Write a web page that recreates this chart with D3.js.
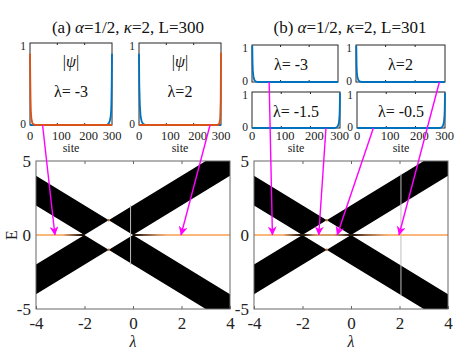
<!DOCTYPE html>
<html>
<head>
<meta charset="utf-8">
<script src="https://cdn.jsdelivr.net/npm/d3@7/dist/d3.min.js"></script>
<style>
  body { margin: 0; background: #fff; }
</style>
</head>
<body>
<svg id="chart" width="471" height="353"></svg>
<script>
// ---- data ----
const lambdaTicks = [-4, -2, 0, 2, 4];
const energyTicks = [-5, 0, 5];
const siteTicks = [0, 100, 200, 300];

// the two crossing bulk bands (parallelograms in lambda-E plane)
const bandDown = [[-4, 4], [4, -4], [4, -6], [-4, 2]];
const bandUp = [[-4, -4], [4, 4], [4, 6], [-4, -2]];
const touchPoints = [[-1, 1], [-1, -1]];

// E = 0 zero modes: [lambda, darkness 0..1]
const zeroStopsA = [[-4, 0], [-2.9, 0], [-2.5, 0.5], [-2.15, 0.95], [-2, 1], [0, 1], [0.12, 0.95], [0.55, 0.55], [1.0, 0.2], [1.4, 0], [4, 0]];
const zeroStopsB = [[-4, 0], [-2.8, 0], [-2.45, 0.5], [-2.1, 0.95], [-1.9, 0.9], [-1.6, 0.35], [-1.4, 0.15], [-0.7, 0.15], [-0.35, 0.55], [-0.05, 0.95], [0.15, 0.9], [0.6, 0.5], [1.3, 0.1], [1.6, 0], [4, 0]];
const zeroSegmentsA = [[-4, -2], [0, 4]];
const zeroSegmentsB = [[-4, 4]];
const gapLineA = [[-0.1, -2], [-0.1, 2]];
const gapLineB = [[2.06, -4.1], [2.06, 4.15]];

// |psi| profiles in the insets: [site, |psi|]
const psiA1Blue = [[0, 0], [282, 0], [288, 0.02], [292, 0.05], [295, 0.1], [297, 0.18], [298, 0.3], [299, 0.5], [300, 0.87]];
const psiA1Orange = [[0, 0.87], [1, 0.55], [2, 0.32], [3, 0.18], [5, 0.08], [8, 0.03], [12, 0.01], [20, 0], [300, 0]];
const psiA2Blue = [[0, 0.87], [1, 0.5], [3, 0.25], [6, 0.1], [10, 0.04], [16, 0.01], [25, 0], [300, 0]];
const psiA2Orange = [[0, 0], [288, 0], [294, 0.02], [297, 0.08], [299, 0.3], [300, 0.88]];
const psiB1 = [[1, 0.98], [2, 0.5], [3, 0.3], [5, 0.15], [8, 0.06], [12, 0.02], [20, 0], [301, 0]];
const psiB2 = [[1, 0.98], [2, 0.45], [3, 0.25], [5, 0.12], [8, 0.05], [12, 0.015], [20, 0], [301, 0]];
const psiB3 = [[1, 0], [282, 0], [290, 0.02], [294, 0.06], [297, 0.14], [299, 0.28], [300, 0.5], [301, 0.98]];
const psiB4 = [[1, 0], [282, 0], [290, 0.02], [294, 0.06], [297, 0.15], [299, 0.3], [300, 0.5], [301, 0.98]];

// arrows: inset bottom (site) -> zero mode at lambda
const arrowsA = [{ inset: 'a1', site: 46, lambda: -3.22 }, { inset: 'a2', site: 260, lambda: 1.98 }];
const arrowsB = [
  { inset: 'b1', site: 60, lambda: -3.24 },
  { inset: 'b3', site: 253, lambda: -1.33 },
  { inset: 'b4', site: 56, lambda: -0.57 },
  { inset: 'b2', site: 282, lambda: 1.98 }
];

// ---- layout ----
const blue = '#0072bd';
const orange = '#d95319';
const zeroLight = '#fbb67c';
const zeroDark = '#1a0c04';
const magenta = '#ff00ff';
const serif = "'Liberation Serif', serif";

const svg = d3.select('#chart');
const defs = svg.append('defs');

defs.append('marker')
  .attr('id', 'arrowhead')
  .attr('viewBox', '0 0 10 10')
  .attr('refX', 9.5)
  .attr('refY', 5)
  .attr('markerWidth', 10)
  .attr('markerHeight', 9)
  .attr('markerUnits', 'userSpaceOnUse')
  .attr('orient', 'auto')
  .append('path')
  .attr('d', 'M0,0 L10,5 L0,10 L3,5 Z')
  .attr('fill', magenta);

const insetBoxes = {
  a1: { x: 30, y: 43, w: 82, h: 82, L: 300 },
  a2: { x: 139, y: 43, w: 82, h: 82, L: 300 },
  b1: { x: 252, y: 45, w: 86, h: 37, L: 301 },
  b2: { x: 356, y: 45, w: 89, h: 37, L: 301 },
  b3: { x: 252, y: 92, w: 88, h: 36, L: 301 },
  b4: { x: 357, y: 92, w: 88, h: 36, L: 301 }
};

function siteScale(box) {
  return d3.scaleLinear().domain([0, box.L]).range([box.x, box.x + box.w]);
}

const minus = d => d < 0 ? '-' + Math.abs(d) : d;

function drawMain(id, left, stops, segments, gapLine) {
  const x = d3.scaleLinear().domain([-4, 4]).range([left, left + 194]);
  const y = d3.scaleLinear().domain([-5, 5]).range([309, 161]);

  defs.append('clipPath').attr('id', 'clip-' + id)
    .append('rect')
    .attr('x', x(-4)).attr('y', y(5))
    .attr('width', x(4) - x(-4)).attr('height', y(-5) - y(5));

  const g = svg.append('g');
  const plot = g.append('g').attr('clip-path', 'url(#clip-' + id + ')');

  const poly = d3.line().x(d => x(d[0])).y(d => y(d[1]));
  plot.append('path')
    .attr('d', poly(bandDown) + 'Z' + poly(bandUp) + 'Z')
    .attr('fill', '#000')
    .attr('fill-rule', 'evenodd');

  plot.append('path')
    .attr('d', poly(gapLine))
    .attr('stroke', '#bdbdbd')
    .attr('stroke-width', 1);

  const grad = defs.append('linearGradient')
    .attr('id', 'zero-' + id)
    .attr('gradientUnits', 'userSpaceOnUse')
    .attr('x1', x(-4)).attr('x2', x(4))
    .attr('y1', 0).attr('y2', 0);
  const mix = d3.interpolateRgb(zeroLight, zeroDark);
  grad.selectAll('stop')
    .data(stops)
    .enter()
    .append('stop')
    .attr('offset', d => (x(d[0]) - x(-4)) / (x(4) - x(-4)))
    .attr('stop-color', d => mix(d[1]));

  plot.selectAll('.zero')
    .data(segments)
    .enter()
    .append('line')
    .attr('x1', d => x(d[0])).attr('x2', d => x(d[1]))
    .attr('y1', y(0)).attr('y2', y(0))
    .attr('stroke', 'url(#zero-' + id + ')')
    .attr('stroke-width', 2);

  plot.selectAll('.touch')
    .data(touchPoints)
    .enter()
    .append('circle')
    .attr('cx', d => x(d[0])).attr('cy', d => y(d[1]))
    .attr('r', 1.2)
    .attr('fill', '#b8703a');

  // frame
  g.append('rect')
    .attr('x', x(-4)).attr('y', y(5))
    .attr('width', x(4) - x(-4)).attr('height', y(-5) - y(5))
    .attr('fill', 'none')
    .attr('stroke', '#666')
    .attr('stroke-width', 1);

  g.append('g')
    .attr('transform', 'translate(0,' + y(-5) + ')')
    .call(d3.axisBottom(x).tickValues(lambdaTicks).tickSize(-3).tickPadding(8).tickFormat(minus))
    .call(a => a.select('.domain').remove())
    .call(a => a.selectAll('.tick line').attr('stroke', '#666'))
    .call(a => a.selectAll('.tick text').attr('fill', '#222')
      .style('font-family', serif).style('font-size', '17px'));

  g.append('g')
    .attr('transform', 'translate(0,' + y(5) + ')')
    .call(d3.axisTop(x).tickValues(lambdaTicks.slice(1, -1)).tickSize(-3).tickFormat(''))
    .call(a => a.select('.domain').remove())
    .call(a => a.selectAll('.tick line').attr('stroke', '#666'));

  g.append('g')
    .attr('transform', 'translate(' + x(-4) + ',0)')
    .call(d3.axisLeft(y).tickValues(energyTicks).tickSize(0).tickPadding(5).tickFormat(minus))
    .call(a => a.select('.domain').remove())
    .call(a => a.selectAll('.tick text').attr('fill', '#222')
      .style('font-family', serif).style('font-size', '17px'));

  g.append('text')
    .attr('x', (x(-4) + x(4)) / 2)
    .attr('y', 347)
    .attr('text-anchor', 'middle')
    .style('font-family', serif)
    .style('font-size', '16px')
    .style('font-style', 'italic')
    .attr('fill', '#222')
    .text('λ');

  return { x, y };
}

function drawInset(key, series, lines, showX) {
  const box = insetBoxes[key];
  const sx = siteScale(box);
  const sy = d3.scaleLinear().domain([0, 1]).range([box.y + box.h, box.y]);
  const g = svg.append('g');

  g.append('rect')
    .attr('x', box.x).attr('y', box.y)
    .attr('width', box.w).attr('height', box.h)
    .attr('fill', '#fff')
    .attr('stroke', '#262626')
    .attr('stroke-width', 1);

  [box.y + box.h, box.y].forEach((yy, i) => {
    g.selectAll('.tk' + i)
      .data([100, 200])
      .enter()
      .append('line')
      .attr('x1', d => sx(d)).attr('x2', d => sx(d))
      .attr('y1', yy).attr('y2', i === 0 ? yy - 2 : yy + 2)
      .attr('stroke', '#262626');
  });

  const line = d3.line().x(d => sx(d[0])).y(d => sy(d[1]));
  series.forEach(s => {
    g.append('path')
      .attr('d', line(s.values))
      .attr('fill', 'none')
      .attr('stroke', s.color)
      .attr('stroke-width', 1.8);
  });

  g.selectAll('.ylab')
    .data([1, 0])
    .enter()
    .append('text')
    .attr('x', box.x - 4)
    .attr('y', d => d === 1 ? box.y + 7 : box.y + box.h + 2.5)
    .attr('text-anchor', 'end')
    .style('font-family', serif)
    .style('font-size', '11.5px')
    .attr('fill', '#222')
    .text(d => d);

  lines.forEach(l => {
    g.append('text')
      .attr('x', box.x + box.w / 2 + (l.dx || 0))
      .attr('y', l.y)
      .attr('text-anchor', 'middle')
      .style('font-family', serif)
      .style('font-size', '16px')
      .attr('fill', '#111')
      .html(l.html);
  });

  if (showX) {
    g.selectAll('.xlab')
      .data(siteTicks)
      .enter()
      .append('text')
      .attr('x', d => sx(d) + (d === 100 || d === 200 ? 4 : 0))
      .attr('y', 140)
      .attr('text-anchor', 'middle')
      .style('font-family', serif)
      .style('font-size', '12.5px')
      .attr('fill', '#222')
      .text(d => d);
    g.append('text')
      .attr('x', box.x + box.w / 2)
      .attr('y', 152)
      .attr('text-anchor', 'middle')
      .style('font-family', serif)
      .style('font-size', '12px')
      .attr('fill', '#222')
      .text('site');
  }
  return sx;
}

// main panels
const mainA = drawMain('a', 36, zeroStopsA, zeroSegmentsA, gapLineA);
const mainB = drawMain('b', 254, zeroStopsB, zeroSegmentsB, gapLineB);

svg.append('text')
  .attr('transform', 'translate(17,235) rotate(-90)')
  .attr('text-anchor', 'middle')
  .style('font-family', serif)
  .style('font-size', '16px')
  .attr('fill', '#222')
  .text('E');

// titles
[['(a) ', '300', 128], ['(b) ', '301', 350]].forEach(t => {
  svg.append('text')
    .attr('x', t[2]).attr('y', 33)
    .attr('text-anchor', 'middle')
    .style('font-family', serif)
    .style('font-size', '17px')
    .attr('fill', '#111')
    .html(t[0] + '<tspan font-style="italic">α</tspan>=1/2, <tspan font-style="italic">κ</tspan>=2, L=' + t[1]);
});

// insets
const psiHtml = '|<tspan font-style="italic">ψ</tspan>|';
const sA1 = drawInset('a1', [{ values: psiA1Blue, color: blue }, { values: psiA1Orange, color: orange }],
  [{ y: 67, html: psiHtml }, { y: 97, html: 'λ= -3' }], true);
const sA2 = drawInset('a2', [{ values: psiA2Blue, color: blue }, { values: psiA2Orange, color: orange }],
  [{ y: 67, html: psiHtml }, { y: 97, html: 'λ=2' }], true);
const sB1 = drawInset('b1', [{ values: psiB1, color: blue }], [{ y: 70, html: 'λ= -3', dx: -4 }], false);
const sB2 = drawInset('b2', [{ values: psiB2, color: blue }], [{ y: 70, html: 'λ=2' }], false);
const sB3 = drawInset('b3', [{ values: psiB3, color: blue }], [{ y: 117, html: 'λ= -1.5' }], true);
const sB4 = drawInset('b4', [{ values: psiB4, color: blue }], [{ y: 117, html: 'λ= -0.5' }], true);

// arrows
const insetScales = { a1: sA1, a2: sA2, b1: sB1, b2: sB2, b3: sB3, b4: sB4 };
function drawArrows(list, main) {
  svg.selectAll(null)
    .data(list)
    .enter()
    .append('line')
    .attr('x1', d => insetScales[d.inset](d.site))
    .attr('y1', d => insetBoxes[d.inset].y + insetBoxes[d.inset].h)
    .attr('x2', d => main.x(d.lambda))
    .attr('y2', main.y(0))
    .attr('stroke', magenta)
    .attr('stroke-width', 1.4)
    .attr('marker-end', 'url(#arrowhead)');
}
drawArrows(arrowsA, mainA);
drawArrows(arrowsB, mainB);
</script>
</body>
</html>
